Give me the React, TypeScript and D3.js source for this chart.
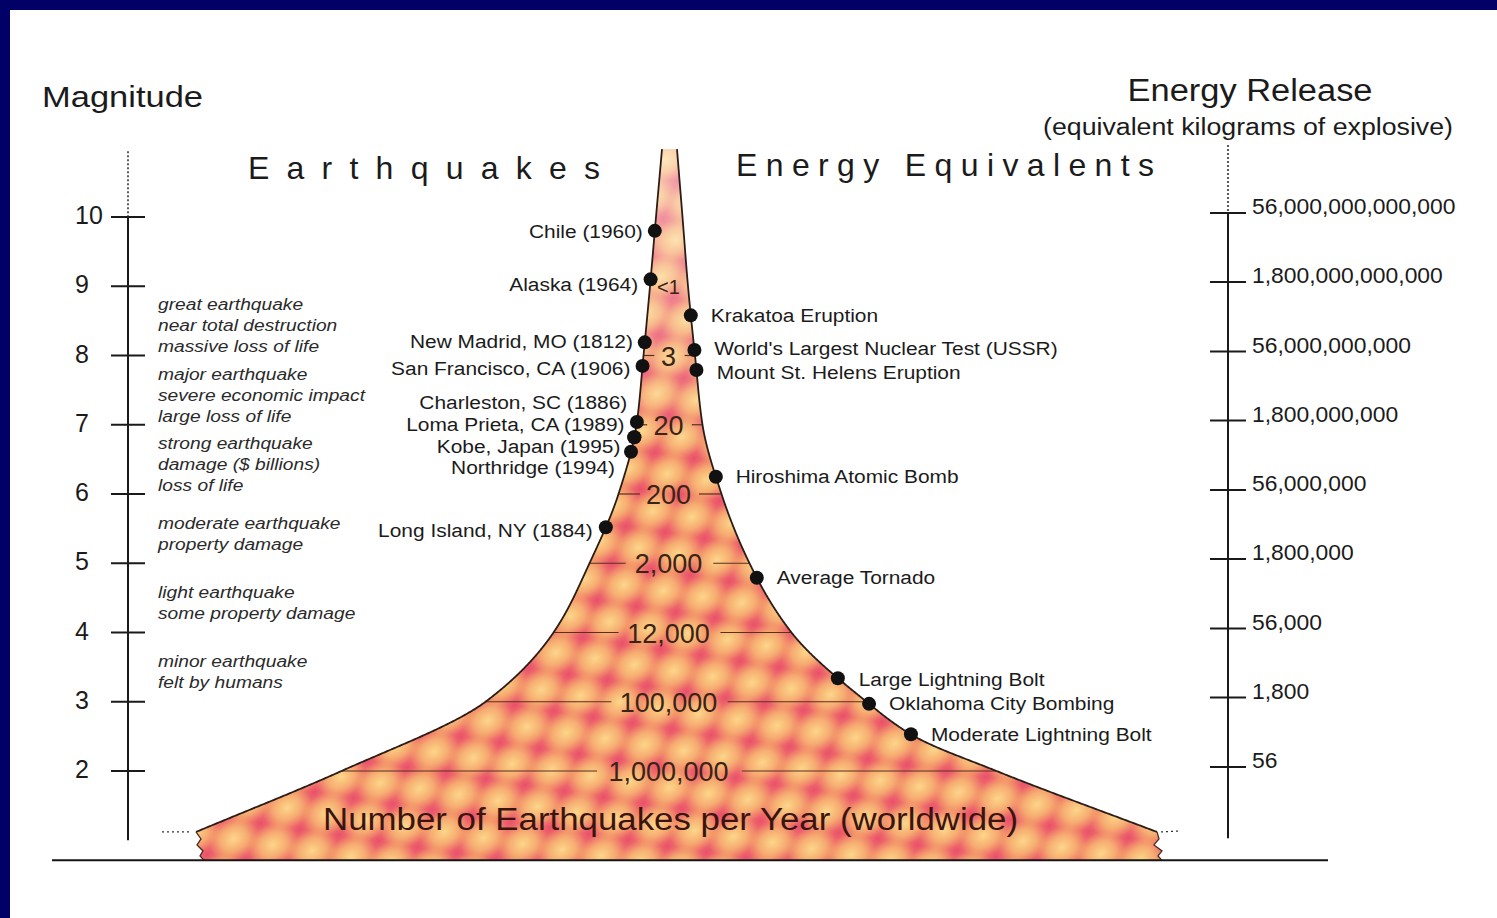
import React from "react";
import * as d3 from "d3";

// ---------- data ----------
const magnitudeTicks = [2, 3, 4, 5, 6, 7, 8, 9, 10];
const energyTicks = [56, 1800, 56000, 1800000, 56000000, 1800000000, 56000000000, 1800000000000, 56000000000000];
const countMagnitudes = [2, 3, 4, 5, 6, 7, 8, 9];
const countLabels = ["1,000,000", "100,000", "12,000", "2,000", "200", "20", "3", "<1"];

// funnel profile (magnitude -> half width)
const leftMags = [1.12, 2, 3, 4, 5, 6, 7, 8, 9, 10, 10.98];
const funnelLeft = [473.5, 328, 184, 116, 80, 51, 33, 26, 19.5, 13.5, 7.5];
const rightMags = [1.12, 2, 2.5, 3, 4, 5, 6, 7, 8, 9, 10, 10.98];
const funnelRight = [487.5, 327, 245, 197, 122, 80, 52, 33, 25.5, 18.5, 13, 7.5];

const descriptionBands = [8, 7, 6, 5, 4, 3];
const descriptionLines = [
  ["great earthquake", "near total destruction", "massive loss of life"],
  ["major earthquake", "severe economic impact", "large loss of life"],
  ["strong earthquake", "damage ($ billions)", "loss of life"],
  ["moderate earthquake", "property damage"],
  ["light earthquake", "some property damage"],
  ["minor earthquake", "felt by humans"],
];

const quakeNames = [
  "Chile (1960)", "Alaska (1964)", "New Madrid, MO (1812)", "San Francisco, CA (1906)",
  "Charleston, SC (1886)", "Loma Prieta, CA (1989)", "Kobe, Japan (1995)", "Northridge (1994)", "Long Island, NY (1884)",
];
const quakeMags = [9.8, 9.1, 8.19, 7.85, 7.04, 6.82, 6.82, 6.61, 5.52];
const quakeLabelMags = [9.8, 9.03, 8.21, 7.82, 7.33, 7.0, 6.69, 6.39, 5.48];

const energyNames = [
  "Krakatoa Eruption", "World's Largest Nuclear Test (USSR)", "Mount St. Helens Eruption", "Hiroshima Atomic Bomb",
  "Average Tornado", "Large Lightning Bolt", "Oklahoma City Bombing", "Moderate Lightning Bolt",
];
const energyMags = [8.58, 8.08, 7.79, 6.25, 4.79, 3.34, 2.97, 2.53];
const energyLabelMags = [8.58, 8.11, 7.75, 6.26, 4.79, 3.33, 2.97, 2.53];

// ---------- layout ----------
const W = 1497;
const H = 918;
const FONT = "'Liberation Sans', Arial, Helvetica, sans-serif";
const centerX = 669.5;
const groundMag = 0.71;
const axisBottomMag = 1.0;

const yMag = d3.scaleLinear().domain([2, 10]).range([771, 217]);
const yEnergy = d3.scaleLog().domain([56, 56000000000000]).range([767, 213]);
const fmt = d3.format(",.0f");

// monotone cubic (Fritsch–Carlson) interpolation
function monotone(xs: number[], ys: number[]) {
  const n = xs.length;
  const d: number[] = [];
  for (let i = 0; i < n - 1; i++) d.push((ys[i + 1] - ys[i]) / (xs[i + 1] - xs[i]));
  const t: number[] = new Array(n);
  t[0] = d[0];
  t[n - 1] = d[n - 2];
  for (let i = 1; i < n - 1; i++) {
    if (d[i - 1] * d[i] <= 0) t[i] = 0;
    else {
      const w1 = 2 * (xs[i + 1] - xs[i]) + (xs[i] - xs[i - 1]);
      const w2 = (xs[i + 1] - xs[i]) + 2 * (xs[i] - xs[i - 1]);
      t[i] = (w1 + w2) / (w1 / d[i - 1] + w2 / d[i]);
    }
  }
  return (x: number) => {
    const xc = Math.max(xs[0], Math.min(xs[n - 1], x));
    let i = d3.bisectRight(xs, xc) - 1;
    if (i >= n - 1) i = n - 2;
    if (i < 0) i = 0;
    const h = xs[i + 1] - xs[i];
    const s = (xc - xs[i]) / h;
    const h00 = 2 * s * s * s - 3 * s * s + 1;
    const h10 = s * s * s - 2 * s * s + s;
    const h01 = -2 * s * s * s + 3 * s * s;
    const h11 = s * s * s - s * s;
    return h00 * ys[i] + h10 * h * t[i] + h01 * ys[i + 1] + h11 * h * t[i + 1];
  };
}
const hwLeft = monotone(leftMags, funnelLeft);
const hwRight = monotone(rightMags, funnelRight);
const leftX = (m: number) => centerX - hwLeft(m);
const rightX = (m: number) => centerX + hwRight(m);

const mTop = leftMags[leftMags.length - 1];
const mBot = leftMags[0];
const samples = d3.range(mTop, mBot - 0.001, -0.01).concat([mBot]);

const line = d3.line<[number, number]>();
const leftPts: [number, number][] = samples.map((m) => [leftX(m), yMag(m)]);
const rightPts: [number, number][] = samples.map((m) => [rightX(m), yMag(m)]);

const groundY = yMag(groundMag);
const yb = yMag(mBot);
const xl = leftX(mBot);
const xr = rightX(mBot);
const leftJag: [number, number][] = [
  [xl, yb], [xl + 5, yb + 7], [xl + 1, yb + 13], [xl + 7, yb + 19], [xl + 4, yb + 24], [xl + 8, groundY],
];
const rightJag: [number, number][] = [
  [xr + 5, groundY], [xr + 1, yb + 24], [xr + 5, yb + 19], [xr - 3, yb + 13], [xr + 2, yb + 7], [xr, yb],
];
const fillPts: [number, number][] = [...leftPts, ...leftJag, ...rightJag, ...rightPts.slice().reverse()];
const fillPath = line(fillPts) as string;
const leftPath = line(leftPts) as string;
const rightPath = line(rightPts) as string;
const jagL = line(leftJag) as string;
const jagR = line(rightJag) as string;

type TProps = {
  x: number; y: number; size: number; anchor?: string; sx?: number; fill?: string;
  italic?: boolean; children: React.ReactNode; len?: number; adjust?: string;
};
function T({ x, y, size, anchor = "start", sx = 1, fill = "#1b1b1b", italic = false, children, len, adjust }: TProps) {
  return (
    <text
      transform={`translate(${x},${y}) scale(${sx},1)`}
      fontFamily={FONT}
      fontSize={size}
      textAnchor={anchor}
      dominantBaseline="central"
      fill={fill}
      fontStyle={italic ? "italic" : "normal"}
      textLength={len}
      lengthAdjust={adjust}
    >
      {children}
    </text>
  );
}

export default function App() {
  const countFont = 27;
  const P = 62;
  return (
    <svg width={W} height={H} style={{ position: "absolute", left: 0, top: 0, display: "block" }}>
      <defs>
        <radialGradient id="gPink">
          <stop offset="0" stopColor="#e9486c" stopOpacity="0.92" />
          <stop offset="0.5" stopColor="#ec5d70" stopOpacity="0.55" />
          <stop offset="1" stopColor="#ef7a70" stopOpacity="0" />
        </radialGradient>
        <radialGradient id="gYellow">
          <stop offset="0" stopColor="#fcd68c" stopOpacity="1" />
          <stop offset="0.55" stopColor="#f9bf78" stopOpacity="0.65" />
          <stop offset="1" stopColor="#f6ab6c" stopOpacity="0" />
        </radialGradient>
        <pattern id="quakeFill" width={P} height={P} patternUnits="userSpaceOnUse" patternTransform="rotate(-30) scale(1,0.8)">
          <rect width={P} height={P} fill="#f49c62" />
          {[[0, 0], [P, 0], [0, P], [P, P], [P / 2, P / 2]].map(([cx, cy], i) => (
            <circle key={"p" + i} cx={cx} cy={cy} r={P / 2.2} fill="url(#gPink)" />
          ))}
          {[[P / 2, 0], [0, P / 2], [P, P / 2], [P / 2, P]].map(([cx, cy], i) => (
            <circle key={"y" + i} cx={cx} cy={cy} r={P / 2.4} fill="url(#gYellow)" />
          ))}
        </pattern>
        <linearGradient id="topFade" x1="0" y1={yMag(mTop)} x2="0" y2={yMag(6.5)} gradientUnits="userSpaceOnUse">
          <stop offset="0" stopColor="#ffffff" stopOpacity="0.45" />
          <stop offset="1" stopColor="#ffffff" stopOpacity="0" />
        </linearGradient>
      </defs>

      {/* frame */}
      <rect x={0} y={0} width={W} height={H} fill="#000066" />
      <rect x={10} y={10} width={W - 10} height={H - 10} fill="#ffffff" />

      {/* titles */}
      <T x={42} y={96} size={30} len={161} adjust="spacingAndGlyphs">Magnitude</T>
      <T x={1250} y={90} size={31} anchor="middle" len={245} adjust="spacingAndGlyphs">Energy Release</T>
      <T x={1248} y={127} size={23} anchor="middle" len={410} adjust="spacingAndGlyphs">(equivalent kilograms of explosive)</T>
      <T x={248} y={168} size={32} len={352} adjust="spacing">Earthquakes</T>
      <T x={736} y={165} size={32} len={418} adjust="spacing">Energy Equivalents</T>

      {/* funnel */}
      <path d={fillPath} fill="url(#quakeFill)" />
      <path d={fillPath} fill="url(#topFade)" />

      {/* count lines */}
      {countMagnitudes.map((m, i) => {
        const lab = countLabels[i];
        const half = lab.length * 0.53 * countFont * 0.5;
        const y = yMag(m);
        const l0 = leftX(m), l1 = centerX - half - 8;
        const r0 = centerX + half + 8, r1 = rightX(m);
        return (
          <g key={"cl" + i} stroke="#5a3020" strokeWidth={1.2}>
            {l1 - l0 > 6 && <line x1={l0} x2={l1} y1={y} y2={y} />}
            {r1 - r0 > 6 && <line x1={r0} x2={r1} y1={y} y2={y} />}
          </g>
        );
      })}
      {countMagnitudes.map((m, i) => (
        <T key={"ct" + i} x={centerX - 1} y={yMag(m) + 1} size={countLabels[i] === "<1" ? 20 : countFont} anchor="middle" fill="#3b2415">
          {countLabels[i]}
        </T>
      ))}

      {/* funnel outlines */}
      <path d={leftPath} fill="none" stroke="#2a1d18" strokeWidth={1.8} />
      <path d={rightPath} fill="none" stroke="#2a1d18" strokeWidth={1.8} />
      <path d={jagL} fill="none" stroke="#4a2a20" strokeWidth={1.3} />
      <path d={jagR} fill="none" stroke="#4a2a20" strokeWidth={1.3} />
      <line x1={xl - 34} x2={xl - 4} y1={yb} y2={yb} stroke="#333" strokeWidth={1.3} strokeDasharray="2,3" />
      <line x1={xr + 4} x2={xr + 24} y1={yb} y2={yb - 1} stroke="#333" strokeWidth={1.3} strokeDasharray="2,3" />

      <T x={centerX + 1} y={819} size={31} anchor="middle" fill="#3a1510" len={695} adjust="spacingAndGlyphs">
        Number of Earthquakes per Year (worldwide)
      </T>

      {/* ground line */}
      <line x1={52} x2={1328} y1={groundY} y2={groundY} stroke="#151515" strokeWidth={2} />

      {/* left magnitude axis */}
      <line x1={128} x2={128} y1={yMag(10.95)} y2={yMag(10)} stroke="#333" strokeWidth={1.6} strokeDasharray="2,2" />
      <line x1={128} x2={128} y1={yMag(10)} y2={yMag(axisBottomMag)} stroke="#1a1a1a" strokeWidth={2} />
      {magnitudeTicks.map((m) => (
        <g key={"mt" + m}>
          <line x1={111} x2={145} y1={yMag(m)} y2={yMag(m)} stroke="#1a1a1a" strokeWidth={2} />
          <T x={75} y={yMag(m) - 2} size={25}>{String(m)}</T>
        </g>
      ))}

      {/* descriptions */}
      {descriptionBands.map((lo, i) => {
        const lines = descriptionLines[i];
        const cy = yMag(lo + 0.5) + 5;
        return lines.map((t, j) => (
          <T key={`d${i}-${j}`} x={158} y={cy + (j - (lines.length - 1) / 2) * 21} size={17} sx={1.13} italic fill="#2a2a2a">
            {t}
          </T>
        ));
      })}

      {/* right energy axis */}
      <line x1={1228} x2={1228} y1={145} y2={yEnergy(56000000000000)} stroke="#333" strokeWidth={1.6} strokeDasharray="2,2" />
      <line x1={1228} x2={1228} y1={yEnergy(56000000000000)} y2={yMag(axisBottomMag) - 2} stroke="#1a1a1a" strokeWidth={2} />
      {energyTicks.map((e) => (
        <g key={"et" + e}>
          <line x1={1210} x2={1246} y1={yEnergy(e)} y2={yEnergy(e)} stroke="#1a1a1a" strokeWidth={2} />
          <T x={1252} y={yEnergy(e) - 6} size={22} sx={1.04}>{fmt(e)}</T>
        </g>
      ))}

      {/* earthquake events (left) */}
      {quakeNames.map((n, i) => (
        <g key={"q" + i}>
          <circle cx={leftX(quakeMags[i])} cy={yMag(quakeMags[i])} r={7} fill="#111" />
          <T x={leftX(quakeLabelMags[i]) - 12} y={yMag(quakeLabelMags[i])} size={19} sx={1.1} anchor="end">{n}</T>
        </g>
      ))}

      {/* energy equivalents (right) */}
      {energyNames.map((n, i) => (
        <g key={"e" + i}>
          <circle cx={rightX(energyMags[i])} cy={yMag(energyMags[i])} r={7} fill="#111" />
          <T x={rightX(energyLabelMags[i]) + 20} y={yMag(energyLabelMags[i])} size={19} sx={1.1}>{n}</T>
        </g>
      ))}
    </svg>
  );
}
